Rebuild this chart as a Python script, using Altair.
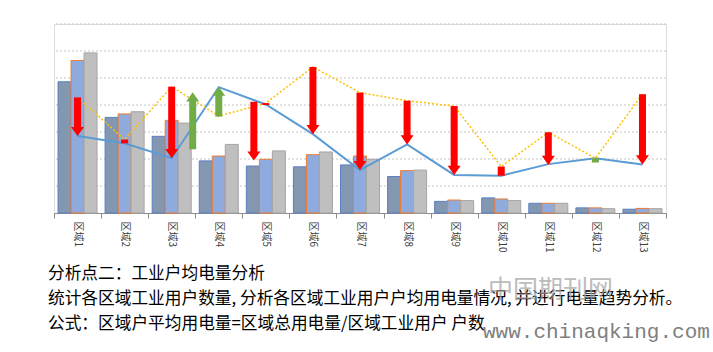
import altair as alt
import pandas as pd

# ---------------- data ----------------
regions = ["区域1", "区域2", "区域3", "区域4", "区域5", "区域6", "区域7",
           "区域8", "区域9", "区域10", "区域11", "区域12", "区域13"]
series_names = ["系列1", "系列2", "系列3"]
s1 = [4.86, 3.54, 2.84, 1.93, 1.74, 1.71, 1.78, 1.35, 0.43, 0.56, 0.36, 0.19, 0.14]
s2 = [5.65, 3.67, 3.43, 2.11, 1.99, 2.16, 2.11, 1.57, 0.48, 0.52, 0.36, 0.19, 0.17]
s3 = [5.93, 3.75, 3.33, 2.54, 2.30, 2.26, 1.99, 1.59, 0.46, 0.46, 0.36, 0.16, 0.16]
blue_line = [2.85, 2.58, 2.03, 4.66, 4.02, 2.92, 1.59, 2.54, 1.41, 1.38, 1.81, 2.03, 1.80]
yellow_line = [4.28, 2.72, 4.68, 3.59, 4.07, 5.41, 4.46, 4.16, 3.96, 1.72, 2.99, 2.03, 4.40]
grid_values = [1, 2, 3, 4, 5, 6, 7]

arrow_region = ["区域1", "区域2", "区域3", "区域3", "区域4", "区域5", "区域5", "区域6",
                "区域7", "区域8", "区域9", "区域10", "区域11", "区域12", "区域13"]
arrow_dx = [0, 0, 0, 21, 0, -12, 0, 0, 0, 0, 0, 0, 0, 0, 0]
arrow_from = [4.28, 2.72, 4.68, 2.36, 3.57, 4.12, 4.07, 5.41, 4.46, 4.16, 3.96, 1.72, 2.99, 1.87, 4.40]
arrow_to = [2.85, 2.58, 2.03, 4.47, 4.68, 1.94, 4.00, 2.92, 1.59, 2.54, 1.41, 1.38, 1.78, 2.03, 1.80]

text_lines = [
    "分析点二：工业户均电量分析",
    "统计各区域工业用户数量, 分析各区域工业用户户均用电量情况, 并进行电量趋势分析。",
    "公式：区域户平均用电量=区域总用电量/区域工业用户 户数",
]
watermark_cn = "中国期刊网"
watermark_url = "www.chinaqking.com"

# ---------------- tables ----------------
bars_df = pd.DataFrame({
    "region": regions * 3,
    "series": [series_names[0]] * 13 + [series_names[1]] * 13 + [series_names[2]] * 13,
    "value": s1 + s2 + s3,
})
lines_df = pd.DataFrame({"region": regions, "blue": blue_line, "yellow": yellow_line})
arrows_df = pd.DataFrame({"region": arrow_region, "dx": arrow_dx,
                          "from": arrow_from, "to": arrow_to})
grid_df = pd.DataFrame({"g": grid_values})

W, H = 612, 189
HALF_STEP = W / len(regions) / 2
CJK = "Noto Sans CJK SC"
YSCALE = alt.Scale(domain=[0, 7], nice=False, zero=True)

grid = alt.Chart(grid_df).mark_rule(color="#c4c4c4", strokeWidth=1,
                                    strokeDash=[2, 2]).encode(
    y=alt.Y("g:Q", scale=YSCALE, axis=None))

x_enc = alt.X("region:N", sort=regions,
              scale=alt.Scale(paddingInner=0, paddingOuter=0),
              axis=alt.Axis(title=None, labelAngle=90, tickBand="extent", tickSize=5,
                            domainColor="#8c8c8c", tickColor="#8c8c8c",
                            labelFont=CJK, labelFontSize=10, labelColor="#404040",
                            labelPadding=3, grid=False))
y_enc = alt.Y("value:Q", scale=YSCALE, axis=None)

bars = alt.Chart(bars_df).mark_bar(strokeWidth=1).encode(
    x=x_enc,
    y=y_enc,
    xOffset=alt.XOffset("series:N", sort=series_names,
                        scale=alt.Scale(paddingInner=0, paddingOuter=0.31)),
    color=alt.Color("series:N", sort=series_names, legend=None,
                    scale=alt.Scale(domain=series_names,
                                    range=["#8497B0", "#8FAADC", "#BFBFBF"])),
    stroke=alt.Stroke("series:N", sort=series_names, legend=None,
                      scale=alt.Scale(domain=series_names,
                                      range=["#5B7FC4", "#ED7D31", "#A5A5A5"])),
)

blue = alt.Chart(lines_df).mark_line(color="#5B9BD5", strokeWidth=2).encode(
    x=alt.X("region:N", sort=regions),
    y=alt.Y("blue:Q", scale=YSCALE, axis=None))
yellow = alt.Chart(lines_df).mark_line(color="#FFC000", strokeWidth=1.5,
                                      strokeDash=[2, 2]).encode(
    x=alt.X("region:N", sort=regions),
    y=alt.Y("yellow:Q", scale=YSCALE, axis=None))

arrow_base = alt.Chart(arrows_df).transform_calculate(
    color="datum['from'] > datum['to'] ? '#FF0000' : '#70AD47'",
    big="abs(datum['from'] - datum['to']) > 0.5",
    down="datum['from'] > datum['to']",
    off=f"datum.dx + {HALF_STEP}",
)
arrow_x = alt.X("region:N", sort=regions)
arrow_xo = alt.XOffset("off:Q", scale=None)
arrow_col = alt.Color("color:N", scale=None)
y_from = alt.Y("from:Q", scale=YSCALE, axis=None)
y_to = alt.Y("to:Q", scale=YSCALE, axis=None)

shaft_small = arrow_base.transform_filter("!datum.big").mark_rule(strokeWidth=7).encode(
    x=arrow_x, xOffset=arrow_xo, y=y_from, y2="to:Q", color=arrow_col)
shaft_down = arrow_base.transform_filter("datum.big && datum.down").mark_rule(
    strokeWidth=7, y2Offset=-7).encode(
    x=arrow_x, xOffset=arrow_xo, y=y_from, y2="to:Q", color=arrow_col)
shaft_up = arrow_base.transform_filter("datum.big && !datum.down").mark_rule(
    strokeWidth=7, y2Offset=7).encode(
    x=arrow_x, xOffset=arrow_xo, y=y_from, y2="to:Q", color=arrow_col)
head_down = arrow_base.transform_filter("datum.big && datum.down").mark_point(
    shape="M-1,-1.4L1,-1.4L0,0Z", filled=True, size=169, opacity=1, strokeWidth=0).encode(
    x=arrow_x, xOffset=arrow_xo, y=y_to, color=arrow_col)
head_up = arrow_base.transform_filter("datum.big && !datum.down").mark_point(
    shape="M-1,1.4L1,1.4L0,0Z", filled=True, size=169, opacity=1, strokeWidth=0).encode(
    x=arrow_x, xOffset=arrow_xo, y=y_to, color=arrow_col)

texts = []
for i, line in enumerate(text_lines):
    texts.append(
        alt.Chart(pd.DataFrame({"t": [line]})).mark_text(
            align="left", baseline="middle", font=CJK, fontSize=16.7, color="#000000"
        ).encode(text="t:N", x=alt.value(-6), y=alt.value(250 + 25 * i))
    )
wm1 = alt.Chart(pd.DataFrame({"t": [watermark_cn]})).mark_text(
    align="left", baseline="middle", font=CJK, fontSize=25, color="#a0a0a0", opacity=0.7
).encode(text="t:N", x=alt.value(434), y=alt.value(266))
wm2 = alt.Chart(pd.DataFrame({"t": [watermark_url]})).mark_text(
    align="left", baseline="middle", font="Liberation Mono", fontSize=21, color="#808080"
).encode(text="t:N", x=alt.value(429), y=alt.value(308))

chart = alt.layer(
    grid, bars, blue, yellow, shaft_small, shaft_down, shaft_up, head_down, head_up,
    *texts, wm1, wm2
).properties(
    width=W, height=H,
    autosize=alt.AutoSizeParams(type="none"),
    padding={"left": 54, "top": 24, "right": 47, "bottom": 139},
).configure_view(stroke=None).configure(background="white")

chart.save("out.html", embed_options={"renderer": "svg", "actions": False})
